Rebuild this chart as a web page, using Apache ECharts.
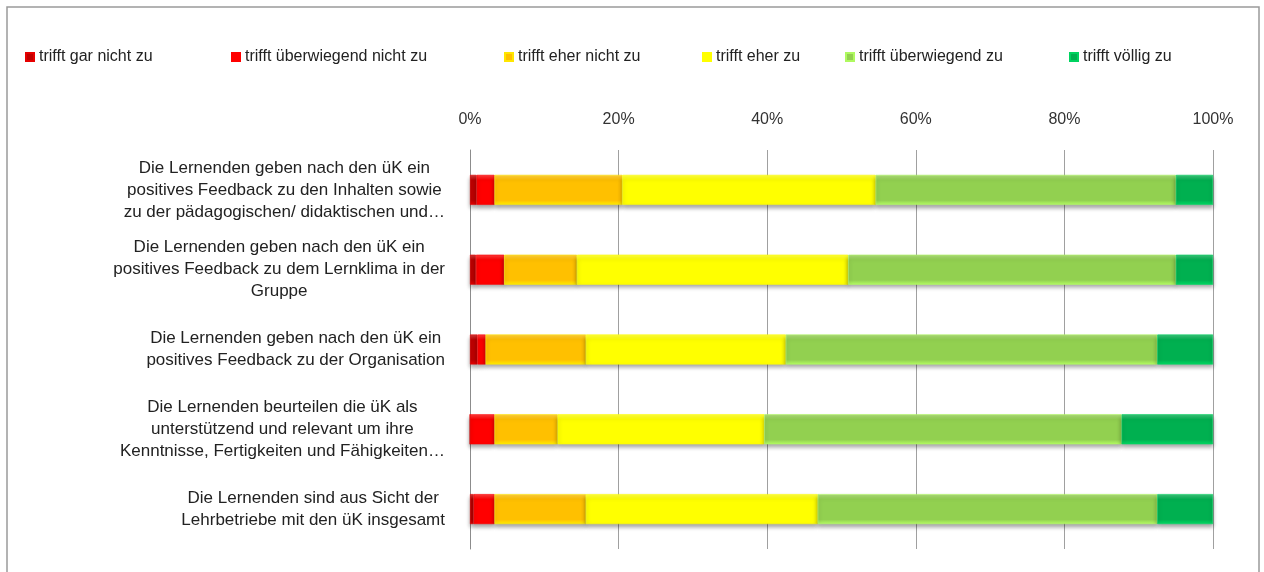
<!DOCTYPE html>
<html>
<head>
<meta charset="utf-8">
<title>üK Feedback</title>
<script src="https://cdn.jsdelivr.net/npm/echarts@6/dist/echarts.min.js"></script>
<style>
  html, body { margin: 0; padding: 0; background: #fff; }
  #main { width: 1264px; height: 572px; }
</style>
</head>
<body>
<div id="main"></div>
<script>
// Kategorien (von oben nach unten)
let categories = [
  "Die Lernenden geben nach den üK ein\npositives Feedback zu den Inhalten sowie\nzu der pädagogischen/ didaktischen und…",
  "Die Lernenden geben nach den üK ein\npositives Feedback zu dem Lernklima in der\nGruppe",
  "Die Lernenden geben nach den üK ein\npositives Feedback zu der Organisation",
  "Die Lernenden beurteilen die üK als\nunterstützend und relevant um ihre\nKenntnisse, Fertigkeiten und Fähigkeiten…",
  "Die Lernenden sind aus Sicht der\nLehrbetriebe mit den üK insgesamt"
];

let seriesNames = [
  "trifft gar nicht zu",
  "trifft überwiegend nicht zu",
  "trifft eher nicht zu",
  "trifft eher zu",
  "trifft überwiegend zu",
  "trifft völlig zu"
];

// Anteile in %
let garNicht = [0.9, 0.8, 1.0, 0, 0.5];
let ueberwiegendNicht = [2.4, 3.8, 1.1, 3.3, 2.8];
let eherNicht = [17.2, 9.8, 13.5, 8.5, 12.3];
let eherZu = [34.1, 36.5, 26.9, 27.8, 31.2];
let ueberwiegendZu = [40.4, 44.1, 50.0, 48.1, 45.7];
let voellig = [5.0, 5.0, 7.5, 12.3, 7.5];

let xTicks = [0, 20, 40, 60, 80, 100];

let values = [garNicht, ueberwiegendNicht, eherNicht, eherZu, ueberwiegendZu, voellig];
let colors = ["#C00000", "#FF0000", "#FFC000", "#FFFF00", "#92D050", "#00B050"];
let legendLeft = [20, 226, 499, 697, 840, 1064];

// etwas Relief wie im Excel-Original
function bevel(c) {
  let light = echarts.color.lift(c, 0.25);
  let dark = echarts.color.lift(c, -0.25);
  return {
    type: "linear", x: 0, y: 0, x2: 0, y2: 1,
    colorStops: [
      { offset: 0, color: light },
      { offset: 0.18, color: c },
      { offset: 0.85, color: c },
      { offset: 1, color: dark }
    ]
  };
}

let chart = echarts.init(document.getElementById("main"));

let option = {
  animation: false,
  textStyle: { fontFamily: "Liberation Sans, Arial, sans-serif" },
  graphic: [
    {
      type: "rect",
      shape: { x: 7, y: 7, width: 1252, height: 600 },
      style: { fill: "none", stroke: "#9a9a9a", lineWidth: 1.5 },
      silent: true
    }
  ],
  legend: seriesNames.map(function (n, i) {
    return {
      data: [n],
      left: legendLeft[i],
      top: 44,
      itemWidth: 8,
      itemHeight: 8,
      icon: "rect",
      textStyle: { fontSize: 16, color: "#222" }
    };
  }),
  grid: { left: 470, right: 51, top: 150, bottom: 23 },
  xAxis: {
    type: "value",
    position: "top",
    min: xTicks[0],
    max: xTicks[xTicks.length - 1],
    interval: 20,
    axisLine: { show: false },
    axisTick: { show: false },
    axisLabel: { formatter: "{value}%", fontSize: 16, color: "#333", margin: 22 },
    splitLine: { lineStyle: { color: "#a0a0a0", width: 1 } }
  },
  yAxis: {
    type: "category",
    inverse: true,
    data: categories,
    axisLine: { lineStyle: { color: "#8c8c8c" } },
    axisTick: { length: 7, lineStyle: { color: "#8c8c8c" } },
    axisLabel: {
      margin: 25,
      formatter: function (v) {
        return v.split("\n").map(function (l) { return "{c|" + l + "}"; }).join("\n");
      },
      rich: {
        c: { align: "center", fontSize: 17, lineHeight: 22, color: "#222" }
      }
    }
  },
  series: seriesNames.map(function (n, i) {
    return {
      name: n,
      type: "bar",
      stack: "total",
      barWidth: 30,
      data: values[i],
      itemStyle: {
        color: bevel(colors[i]),
        borderColor: echarts.color.lift(colors[i], -0.2),
        borderWidth: 0.6,
        shadowColor: "rgba(0,0,0,0.35)",
        shadowBlur: 4,
        shadowOffsetY: 3
      }
    };
  })
};

chart.setOption(option);
</script>
</body>
</html>
